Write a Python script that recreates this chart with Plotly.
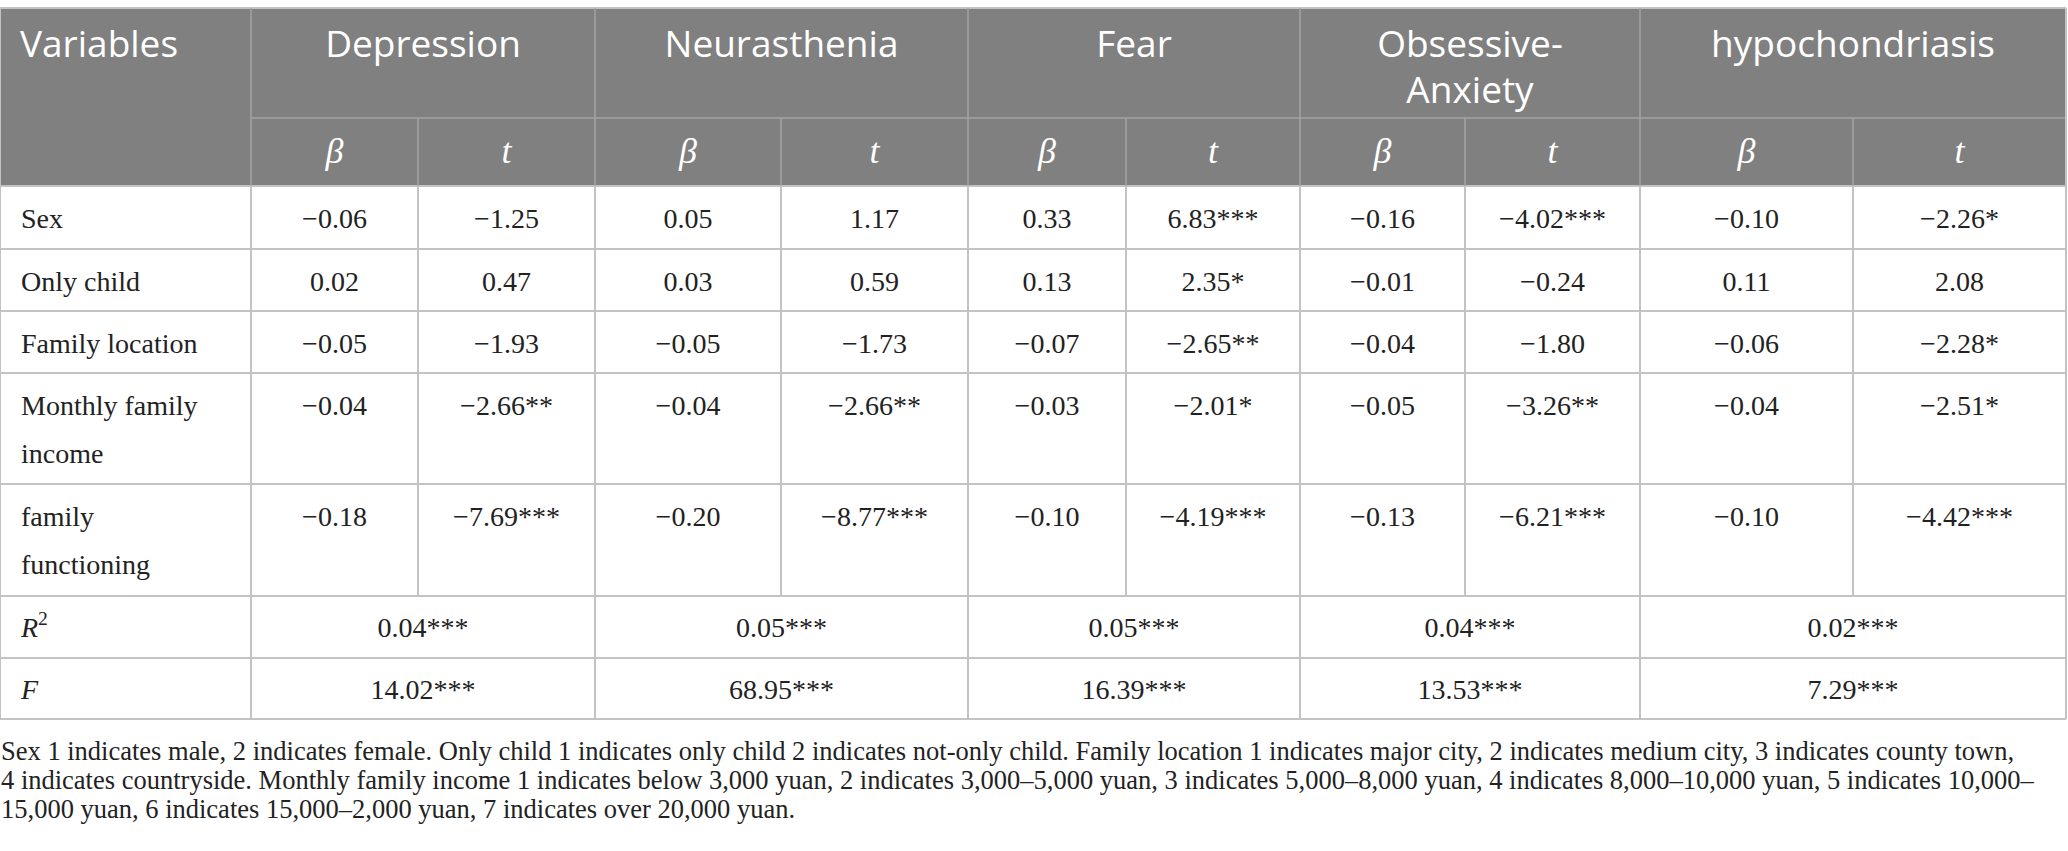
import plotly.graph_objects as go

# ---------------- data ----------------
variables = ["Sex", "Only child", "Family location", "Monthly family\nincome", "family\nfunctioning"]
outcomes = ["Depression", "Neurasthenia", "Fear", "Obsessive-\nAnxiety", "hypochondriasis"]
sub_headers = ["β", "t"]

depression_beta = [-0.06, 0.02, -0.05, -0.04, -0.18]
depression_t = [-1.25, 0.47, -1.93, -2.66, -7.69]
depression_t_sig = ["", "", "", "**", "***"]

neurasthenia_beta = [0.05, 0.03, -0.05, -0.04, -0.20]
neurasthenia_t = [1.17, 0.59, -1.73, -2.66, -8.77]
neurasthenia_t_sig = ["", "", "", "**", "***"]

fear_beta = [0.33, 0.13, -0.07, -0.03, -0.10]
fear_t = [6.83, 2.35, -2.65, -2.01, -4.19]
fear_t_sig = ["***", "*", "**", "*", "***"]

obsessive_beta = [-0.16, -0.01, -0.04, -0.05, -0.13]
obsessive_t = [-4.02, -0.24, -1.80, -3.26, -6.21]
obsessive_t_sig = ["***", "", "", "**", "***"]

hypo_beta = [-0.10, 0.11, -0.06, -0.04, -0.10]
hypo_t = [-2.26, 2.08, -2.28, -2.51, -4.42]
hypo_t_sig = ["*", "", "*", "*", "***"]

r_squared = [0.04, 0.05, 0.05, 0.04, 0.02]
r_squared_sig = ["***", "***", "***", "***", "***"]
f_values = [14.02, 68.95, 16.39, 13.53, 7.29]
f_sig = ["***", "***", "***", "***", "***"]
summary_labels = ["<i>R</i><sup>2</sup>", "<i>F</i>"]

footnote_lines = [
    "Sex 1 indicates male, 2 indicates female. Only child 1 indicates only child 2 indicates not-only child. Family location 1 indicates major city, 2 indicates medium city, 3 indicates county town,",
    "4 indicates countryside. Monthly family income 1 indicates below 3,000 yuan, 2 indicates 3,000–5,000 yuan, 3 indicates 5,000–8,000 yuan, 4 indicates 8,000–10,000 yuan, 5 indicates 10,000–",
    "15,000 yuan, 6 indicates 15,000–2,000 yuan, 7 indicates over 20,000 yuan.",
]

# ---------------- layout geometry ----------------
W, H = 2068, 851
col_edges = [0, 251, 418, 595, 781, 968, 1126, 1300, 1465, 1640, 1853, 2066]
row_edges = [8, 118, 186, 249, 311, 373, 484, 596, 658, 719]
body_line_gap = 48
head_line_gap = 46
head_offset = 40
sub_offset = 36
first_line_offset = 35
foot_y0 = 753
foot_gap = 29

HEAD_BG = "#7f807f"
GRID = "#c3c3c3"
HEAD_GRID = "#a3a3a3"
TXT = "#222222"
SERIF = "Liberation Serif"
SANS = "Open Sans"
HEAD_SIZE = 37


def fmt(v, sig=""):
    return f"{v:.2f}".replace("-", "−") + sig


betas = [depression_beta, neurasthenia_beta, fear_beta, obsessive_beta, hypo_beta]
ts = [depression_t, neurasthenia_t, fear_t, obsessive_t, hypo_t]
t_sigs = [depression_t_sig, neurasthenia_t_sig, fear_t_sig, obsessive_t_sig, hypo_t_sig]

fig = go.Figure()

# header background
shapes = [dict(type="rect", xref="x", yref="y", x0=col_edges[0], x1=col_edges[-1],
               y0=row_edges[0], y1=row_edges[2], fillcolor=HEAD_BG, line=dict(width=0), layer="below")]


def hline(y, x0, x1, color=GRID, w=2):
    shapes.append(dict(type="line", xref="x", yref="y", x0=x0, x1=x1, y0=y, y1=y,
                       line=dict(color=color, width=w), layer="below"))


def vline(x, y0, y1, color=GRID, w=2):
    shapes.append(dict(type="line", xref="x", yref="y", x0=x, x1=x, y0=y0, y1=y1,
                       line=dict(color=color, width=w), layer="below"))


# horizontal lines
hline(row_edges[0], col_edges[0], col_edges[-1])
hline(row_edges[1], col_edges[1], col_edges[-1], HEAD_GRID, 1.5)
for y in row_edges[2:]:
    hline(y, col_edges[0], col_edges[-1])
# vertical lines: outer, variable column and group edges span full height
group_edges = [col_edges[0], col_edges[1], col_edges[3], col_edges[5], col_edges[7], col_edges[9], col_edges[11]]
for x in group_edges:
    if x in (col_edges[0], col_edges[-1]):
        vline(x, row_edges[0], row_edges[2])
    else:
        vline(x, row_edges[0], row_edges[2], HEAD_GRID, 1.5)
    vline(x, row_edges[2], row_edges[-1])
# beta / t dividers
for k in range(5):
    x = col_edges[2 + 2 * k]
    vline(x, row_edges[1], row_edges[2], HEAD_GRID, 1.5)
    vline(x, row_edges[2], row_edges[7])


def centers(i0, i1):
    return (col_edges[i0] + col_edges[i1]) / 2


# header row 1: "Variables" + outcome names
hx, hy, htxt = [], [], []
for k, name in enumerate(outcomes):
    for j, line in enumerate(name.split("\n")):
        hx.append(centers(1 + 2 * k, 3 + 2 * k))
        hy.append(row_edges[0] + head_offset + j * head_line_gap)
        htxt.append(line)
fig.add_trace(go.Scatter(x=hx, y=hy, text=htxt, mode="text", textposition="middle center",
                         textfont=dict(family=SANS, size=HEAD_SIZE, color="white", weight=400),
                         hoverinfo="skip", showlegend=False))
fig.add_trace(go.Scatter(x=[col_edges[0] + 20], y=[row_edges[0] + head_offset], text=["Variables"], mode="text",
                         textposition="middle right",
                         textfont=dict(family=SANS, size=HEAD_SIZE, color="white", weight=400),
                         hoverinfo="skip", showlegend=False))

# header row 2: beta / t
sx, sy, stxt = [], [], []
for k in range(5):
    for j, sh in enumerate(sub_headers):
        sx.append(centers(1 + 2 * k + j, 2 + 2 * k + j))
        sy.append(row_edges[1] + sub_offset)
        stxt.append(f"<i>{sh}</i>")
fig.add_trace(go.Scatter(x=sx, y=sy, text=stxt, mode="text", textposition="middle center",
                         textfont=dict(family=SERIF, size=36, color="white"),
                         hoverinfo="skip", showlegend=False))

# variable labels
vx, vy, vtxt = [], [], []
for i, lab in enumerate(variables):
    for j, line in enumerate(lab.split("\n")):
        vx.append(col_edges[0] + 21)
        vy.append(row_edges[2 + i] + first_line_offset + j * body_line_gap)
        vtxt.append(line)
for i, lab in enumerate(summary_labels):
    vx.append(col_edges[0] + 21)
    vy.append(row_edges[7 + i] + first_line_offset - 1)
    vtxt.append(lab)
fig.add_trace(go.Scatter(x=vx, y=vy, text=vtxt, mode="text", textposition="middle right",
                         textfont=dict(family=SERIF, size=28, color=TXT),
                         hoverinfo="skip", showlegend=False))

# body values
bx, by, btxt = [], [], []
for k in range(5):
    for i in range(len(variables)):
        y = row_edges[2 + i] + first_line_offset
        bx.append(centers(1 + 2 * k, 2 + 2 * k))
        by.append(y)
        btxt.append(fmt(betas[k][i]))
        bx.append(centers(2 + 2 * k, 3 + 2 * k))
        by.append(y)
        btxt.append(fmt(ts[k][i], t_sigs[k][i]))
    bx.append(centers(1 + 2 * k, 3 + 2 * k))
    by.append(row_edges[7] + first_line_offset - 1)
    btxt.append(fmt(r_squared[k], r_squared_sig[k]))
    bx.append(centers(1 + 2 * k, 3 + 2 * k))
    by.append(row_edges[8] + first_line_offset - 1)
    btxt.append(fmt(f_values[k], f_sig[k]))
fig.add_trace(go.Scatter(x=bx, y=by, text=btxt, mode="text", textposition="middle center",
                         textfont=dict(family=SERIF, size=28, color=TXT),
                         hoverinfo="skip", showlegend=False))

# footnote
fig.add_trace(go.Scatter(x=[col_edges[0] + 1] * len(footnote_lines),
                         y=[foot_y0 + j * foot_gap for j in range(len(footnote_lines))],
                         text=footnote_lines, mode="text", textposition="middle right",
                         textfont=dict(family=SERIF, size=26.5, color=TXT),
                         hoverinfo="skip", showlegend=False))

fig.update_layout(
    width=W, height=H, margin=dict(l=0, r=0, t=0, b=0),
    paper_bgcolor="white", plot_bgcolor="white", shapes=shapes, showlegend=False,
    xaxis=dict(range=[0, W], visible=False, fixedrange=True),
    yaxis=dict(range=[H, 0], visible=False, fixedrange=True),
)

fig.write_html("out.html", config={"displayModeBar": False},
               post_script="document.body.style.margin='0';document.body.style.overflow='hidden';")
